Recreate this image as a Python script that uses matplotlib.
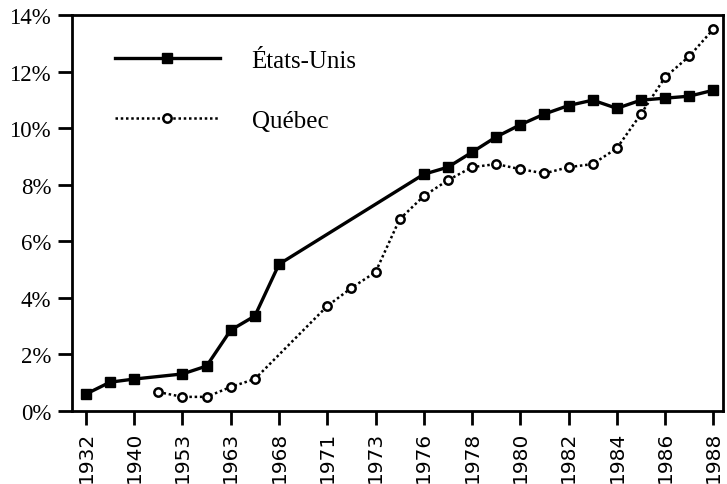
import numpy as np
import matplotlib.pyplot as plt

# x slots: one per observation, every second slot labelled
tick_labels = ["1932", "1940", "1953", "1963", "1968", "1971", "1973",
               "1976", "1978", "1980", "1982", "1984", "1986", "1988"]
n_slots = 27

nan = np.nan
us = [0.60, 1.02, 1.13, nan, 1.31, 1.59, 2.86, 3.36, 5.19,
      nan, nan, nan, nan, nan, 8.37, 8.62, 9.15, 9.69, 10.12,
      10.50, 10.80, 10.99, 10.70, 10.99, 11.06, 11.13, 11.34]
quebec = [nan, nan, nan, 0.67, 0.50, 0.50, 0.85, 1.13, nan,
          nan, 3.71, 4.35, 4.91, 6.78, 7.60, 8.16, 8.62, 8.73, 8.55,
          8.40, 8.62, 8.73, 9.29, 10.50, 11.80, 12.54, 13.50]

serif = "Liberation Serif"

fig = plt.figure(figsize=(7.27, 4.85), dpi=100)
ax = fig.add_axes([0.099, 0.1505, 0.8955, 0.8165])

x = np.arange(n_slots)
us = np.array(us)
quebec = np.array(quebec)

# lines drawn over the gaps, markers only on real values
m = ~np.isnan(us)
ax.plot(x[m], us[m], color="black", lw=2.4, marker="s", ms=7.5,
        mfc="black", mec="black", label="États-Unis")
m = ~np.isnan(quebec)
ax.plot(x[m], quebec[m], color="black", lw=1.8, ls=(0, (1, 1.1)),
        marker="o", ms=6, mfc="white", mec="black", mew=1.8,
        label="Québec")

ax.set_xlim(-0.58, 26.4)
ax.set_ylim(0, 14)

ax.set_xticks(np.arange(0, n_slots, 2))
ax.set_xticklabels(tick_labels, rotation=90, fontsize=14.5,
                   family="DejaVu Sans")
ax.set_yticks(np.arange(0, 15, 2))
ax.set_yticklabels([f"{v}%" for v in range(0, 15, 2)], fontsize=16.5,
                   family=serif)

ax.tick_params(axis="both", direction="out", length=10, width=2,
               color="black")
ax.tick_params(axis="y", pad=5)
ax.tick_params(axis="x", pad=4)
for s in ax.spines.values():
    s.set_linewidth(2)

ax.legend(loc="upper left", bbox_to_anchor=(0.031, 0.97), frameon=False,
          handlelength=4.2, handletextpad=1.28, labelspacing=1.5,
          prop={"family": serif, "size": 18})

fig.savefig("out.png", dpi=100)
